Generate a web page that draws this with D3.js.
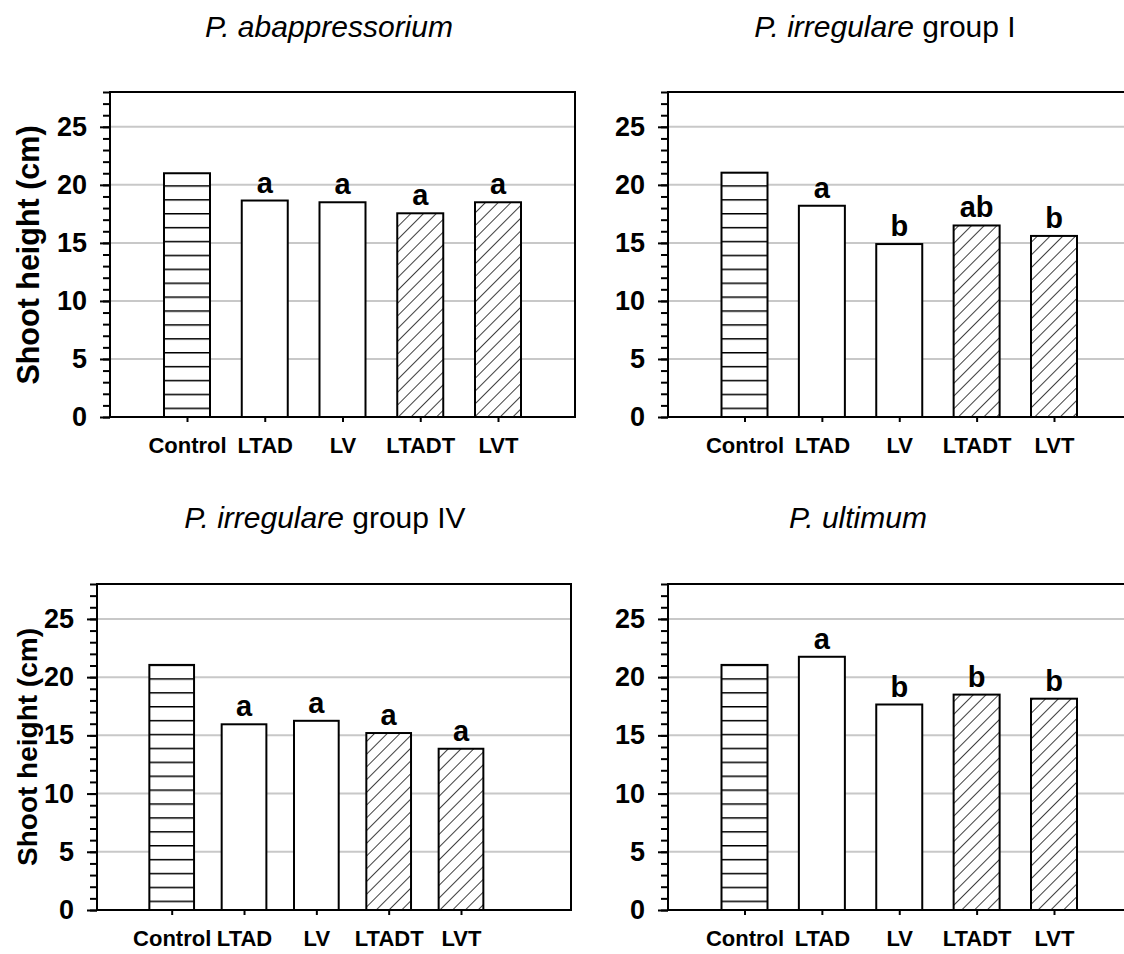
<!DOCTYPE html>
<html>
<head>
<meta charset="utf-8">
<script src="https://cdn.jsdelivr.net/npm/d3@7"></script>
<style>
  body { margin: 0; background: #fff; }
  svg { display: block; font-family: "Liberation Sans", Arial, sans-serif; }
</style>
</head>
<body>
<div id="chart"></div>
<script>
const categories = ['Control', 'LTAD', 'LV', 'LTADT', 'LVT']
const yTicks = [0, 5, 10, 15, 20, 25]

const abappressorium = [21.0, 18.65, 18.5, 17.55, 18.5]
const abappressoriumLetters = ['', 'a', 'a', 'a', 'a']

const irregulareI = [21.05, 18.2, 14.9, 16.5, 15.6]
const irregulareILetters = ['', 'a', 'b', 'ab', 'b']

const irregulareIV = [21.05, 15.95, 16.25, 15.2, 13.85]
const irregulareIVLetters = ['', 'a', 'a', 'a', 'a']

const ultimum = [21.05, 21.75, 17.65, 18.5, 18.15]
const ultimumLetters = ['', 'a', 'b', 'b', 'b']

const W = 1124
const H = 954

// panel layout (plot box + first/last bar centre)
const panels = [
  { values: abappressorium, letters: abappressoriumLetters, italic: 'P. abappressorium', rest: '',
    left: 110, top: 92, right: 575, bottom: 417, x0: 187, x1: 498, barW: 46,
    titleX: 329, titleY: 37, yTitle: { x: 28, y: 255, size: 30.5 } },
  { values: irregulareI, letters: irregulareILetters, italic: 'P. irregulare', rest: ' group I',
    left: 668, top: 92, right: 1132, bottom: 417, x0: 744.5, x1: 1054, barW: 46,
    titleX: 885, titleY: 37, yTitle: null },
  { values: irregulareIV, letters: irregulareIVLetters, italic: 'P. irregulare', rest: ' group IV',
    left: 97, top: 584, right: 571, bottom: 910, x0: 171.7, x1: 461, barW: 44.7,
    titleX: 325, titleY: 528, yTitle: { x: 27, y: 747, size: 28 } },
  { values: ultimum, letters: ultimumLetters, italic: 'P. ultimum', rest: '',
    left: 668, top: 584, right: 1132, bottom: 910, x0: 744.5, x1: 1054, barW: 46,
    titleX: 858, titleY: 528, yTitle: null }
]

const svg = d3.select('#chart')
  .append('svg')
  .attr('width', W)
  .attr('height', H)

const defs = svg.append('defs')

defs.append('pattern')
  .attr('id', 'hatch-d')
  .attr('patternUnits', 'userSpaceOnUse')
  .attr('width', 9)
  .attr('height', 9)
  .attr('patternTransform', 'rotate(45)')
  .call(p => p.append('rect').attr('width', 9).attr('height', 9).attr('fill', '#fff'))
  .append('line')
  .attr('x1', 0).attr('x2', 0).attr('y1', 0).attr('y2', 9)
  .attr('stroke', '#000')
  .attr('stroke-width', 1.5)

panels.forEach((p, i) => {
  // horizontal hatch anchored to this panel's baseline
  defs.append('pattern')
    .attr('id', `hatch-h-${i}`)
    .attr('patternUnits', 'userSpaceOnUse')
    .attr('width', 10)
    .attr('height', 13.9)
    .attr('y', p.bottom - 9.4)
    .call(pt => pt.append('rect').attr('width', 10).attr('height', 13.9).attr('fill', '#fff'))
    .append('line')
    .attr('x1', 0).attr('x2', 10).attr('y1', 0.5).attr('y2', 0.5)
    .attr('stroke', '#000')
    .attr('stroke-width', 2)

  const g = svg.append('g')

  const x = d3.scalePoint(categories, [p.x0, p.x1])
  const y = d3.scaleLinear([0, 28], [p.bottom, p.top])

  // gridlines
  g.append('g')
    .selectAll('line')
    .data(yTicks.filter(d => d > 0))
    .enter()
    .append('line')
    .attr('x1', p.left)
    .attr('x2', p.right)
    .attr('y1', d => y(d))
    .attr('y2', d => y(d))
    .attr('stroke', '#c8c8c8')
    .attr('stroke-width', 2)

  // minor ticks
  g.append('g')
    .attr('transform', `translate(${p.left},0)`)
    .call(d3.axisLeft(y).tickValues(d3.range(0, 29)).tickSize(7).tickFormat(''))
    .call(a => a.select('.domain').remove())
    .call(a => a.selectAll('line').attr('stroke', '#000').attr('stroke-width', 2))

  // major ticks + labels
  g.append('g')
    .attr('transform', `translate(${p.left},0)`)
    .call(d3.axisLeft(y).tickValues(yTicks).tickSize(10).tickPadding(13))
    .call(a => a.select('.domain').remove())
    .call(a => a.selectAll('line').attr('stroke', '#000').attr('stroke-width', 2))
    .call(a => a.selectAll('text')
      .attr('font-size', 27)
      .attr('font-weight', 'bold')
      .attr('font-family', '"Liberation Sans", Arial, sans-serif')
      .attr('fill', '#000'))

  // x axis
  g.append('g')
    .attr('transform', `translate(0,${p.bottom})`)
    .call(d3.axisBottom(x).tickSize(5).tickPadding(15))
    .call(a => a.select('.domain').remove())
    .call(a => a.selectAll('line').attr('stroke', '#000').attr('stroke-width', 2))
    .call(a => a.selectAll('text')
      .attr('font-size', 22)
      .attr('font-weight', 'bold')
      .attr('font-family', '"Liberation Sans", Arial, sans-serif')
      .attr('fill', '#000'))

  // bars
  const fillFor = j => j === 0 ? `url(#hatch-h-${i})` : (j >= 3 ? 'url(#hatch-d)' : '#fff')
  g.append('g')
    .selectAll('rect')
    .data(p.values)
    .enter()
    .append('rect')
    .attr('x', (d, j) => x(categories[j]) - p.barW / 2)
    .attr('y', d => y(d))
    .attr('width', p.barW)
    .attr('height', d => y(0) - y(d))
    .attr('fill', (d, j) => fillFor(j))
    .attr('stroke', '#000')
    .attr('stroke-width', 2)

  // significance letters
  g.append('g')
    .selectAll('text')
    .data(p.values)
    .enter()
    .append('text')
    .attr('x', (d, j) => x(categories[j]))
    .attr('y', d => y(d) - 8)
    .attr('text-anchor', 'middle')
    .attr('font-size', 29)
    .attr('font-weight', 'bold')
    .text((d, j) => p.letters[j])

  // frame
  g.append('rect')
    .attr('x', p.left)
    .attr('y', p.top)
    .attr('width', p.right - p.left)
    .attr('height', p.bottom - p.top)
    .attr('fill', 'none')
    .attr('stroke', '#000')
    .attr('stroke-width', 2)

  // title
  const t = g.append('text')
    .attr('x', p.titleX)
    .attr('y', p.titleY)
    .attr('text-anchor', 'middle')
    .attr('font-size', 30)
  t.append('tspan').attr('font-style', 'italic').text(p.italic)
  if (p.rest) t.append('tspan').text(p.rest)

  if (p.yTitle) {
    g.append('text')
      .attr('transform', `translate(${p.yTitle.x},${p.yTitle.y}) rotate(-90)`)
      .attr('text-anchor', 'middle')
      .attr('dominant-baseline', 'central')
      .attr('font-size', p.yTitle.size)
      .attr('font-weight', 'bold')
      .text('Shoot height (cm)')
  }
})
</script>
</body>
</html>
